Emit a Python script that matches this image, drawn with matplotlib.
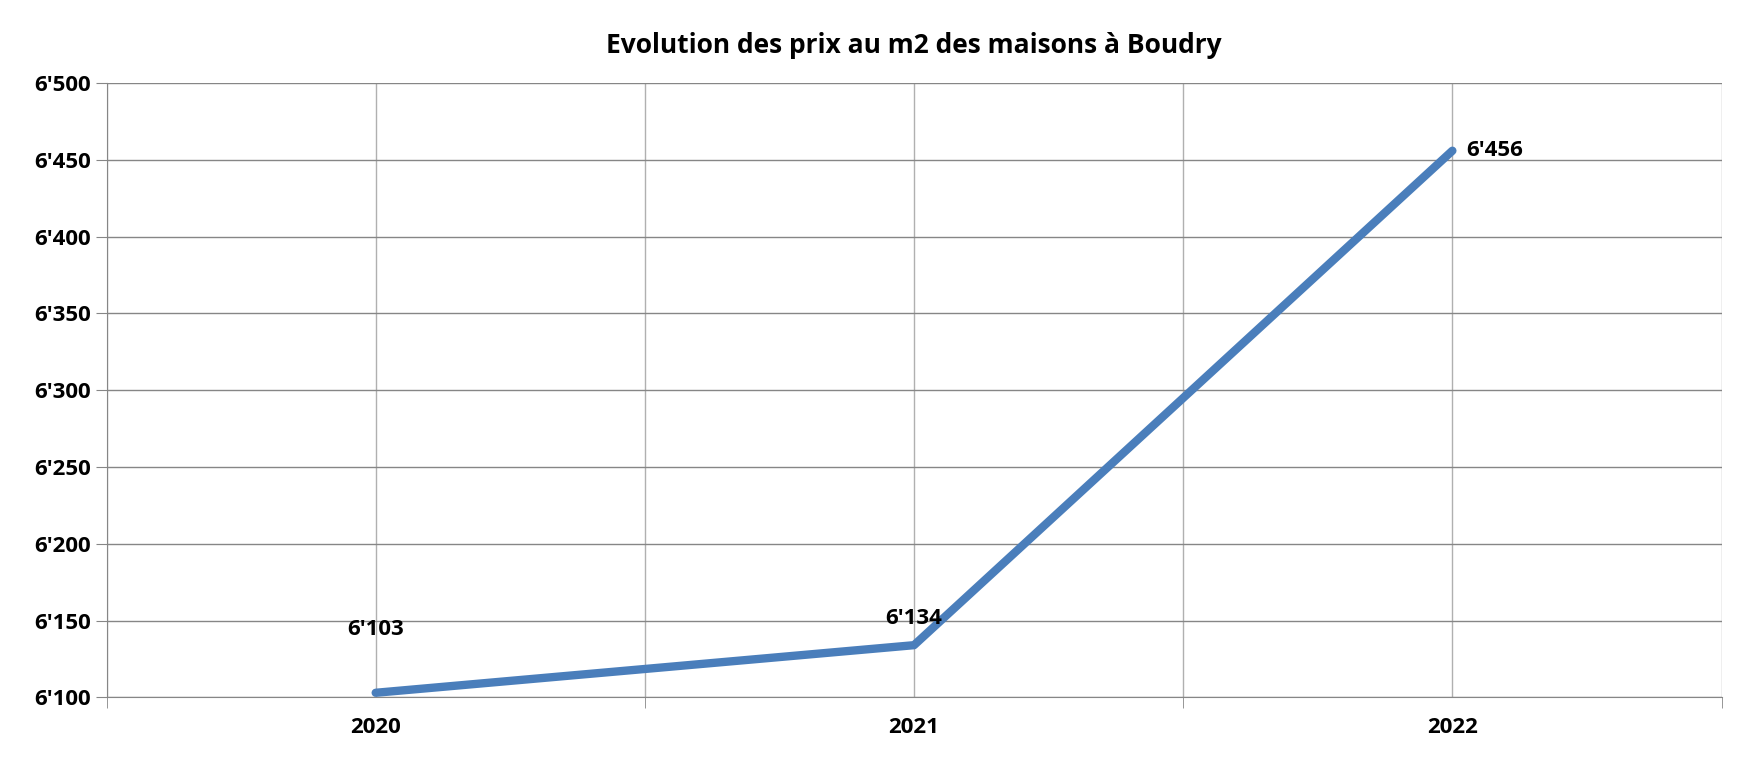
import matplotlib.pyplot as plt
import numpy as np

years = [2020, 2021, 2022]
prices = [6103, 6134, 6456]
labels = ["6'103", "6'134", "6'456"]
y_ticks = list(range(6100, 6501, 50))

plt.rcParams['font.family'] = 'Open Sans'

fig = plt.figure(figsize=(17.46, 7.63), dpi=100)
ax = fig.add_axes([0.061, 0.086, 0.925, 0.805])

x = np.arange(len(years))
ax.plot(x, prices, color='#4a7ebb', linewidth=6, solid_capstyle='round', zorder=3)

# data labels
ax.annotate(labels[0], (x[0], prices[0]), xytext=(0, 38), textcoords='offset points',
            ha='center', va='bottom', fontsize=16, fontweight='bold')
ax.annotate(labels[1], (x[1], prices[1]), xytext=(0, 12), textcoords='offset points',
            ha='center', va='bottom', fontsize=16, fontweight='bold')
ax.annotate(labels[2], (x[2], prices[2]), xytext=(10, 0), textcoords='offset points',
            ha='left', va='center', fontsize=16, fontweight='bold')

ax.set_xlim(-0.5, len(years) - 0.5)
ax.set_ylim(6100, 6500)
ax.set_yticks(y_ticks)
ax.set_yticklabels([f"{v // 1000}'{v % 1000:03d}" for v in y_ticks], fontsize=16, fontweight='bold')
ax.set_xticks(x)
ax.set_xticklabels([str(y) for y in years], fontsize=16, fontweight='bold')
ax.set_xticks(np.arange(-0.5, len(years), 0.5), minor=True)
ax.tick_params(axis='x', which='major', length=0, pad=14)
ax.tick_params(axis='x', which='minor', length=8, color='#868686')
ax.tick_params(axis='y', length=8, color='#868686')

ax.grid(True, which='both', axis='x', color='#b0b0b0', linewidth=1)
ax.grid(True, axis='y', color='#868686', linewidth=1)
for s in ax.spines.values():
    s.set_color('#868686')
ax.spines['top'].set_visible(False)
ax.spines['right'].set_visible(False)

ax.set_title('Evolution des prix au m2 des maisons à Boudry', fontsize=19, fontweight='bold', pad=22)

fig.savefig('out.png')
